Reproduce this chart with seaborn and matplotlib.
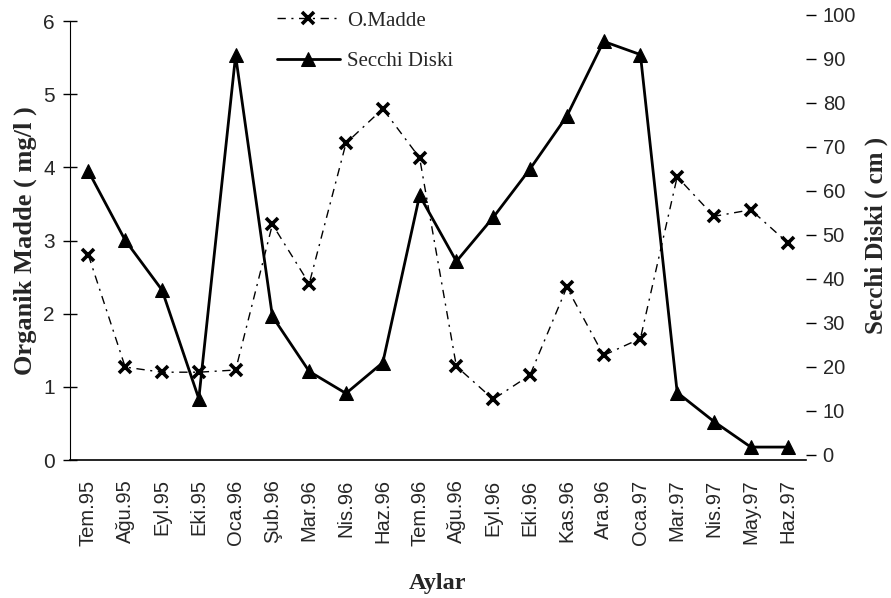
import matplotlib
matplotlib.use("Agg")
import matplotlib.pyplot as plt
import seaborn as sns
import pandas as pd
import numpy as np

months = ["Tem.95", "Ağu.95", "Eyl.95", "Eki.95", "Oca.96", "Şub.96", "Mar.96",
          "Nis.96", "Haz.96", "Tem.96", "Ağu.96", "Eyl.96", "Eki.96", "Kas.96",
          "Ara.96", "Oca.97", "Mar.97", "Nis.97", "May.97", "Haz.97"]
organik_madde = [2.80, 1.27, 1.20, 1.20, 1.23, 3.22, 2.41, 4.33, 4.80, 4.13,
                 1.28, 0.83, 1.16, 2.36, 1.43, 1.66, 3.87, 3.33, 3.42, 2.97]
secchi_diski = [64.5, 48.8, 37.5, 12.8, 90.8, 31.5, 19.0, 14.0, 21.0, 59.0,
                44.0, 54.0, 65.0, 77.0, 94.0, 91.0, 14.2, 7.6, 1.8, 1.8]
left_ticks = [0, 1, 2, 3, 4, 5, 6]
right_ticks = [0, 10, 20, 30, 40, 50, 60, 70, 80, 90, 100]

sns.set_theme(style="white")
plt.rcParams["font.family"] = ["Liberation Sans", "DejaVu Sans"]

df = pd.DataFrame({"x": np.arange(len(months)), "ay": months,
                   "om": organik_madde, "sd": secchi_diski})

W, H = 891, 598
fig = plt.figure(figsize=(W / 100, H / 100), dpi=100)
# left axis: x 70..806 px, y 0 at 460 px, 6 at 21 px
ax = fig.add_axes([70 / W, 1 - 460 / H, 736 / W, 439 / H])
# right axis: 0 at 455 px, 100 at 15 px
ax2 = fig.add_axes([70 / W, 1 - 455 / H, 736 / W, 440 / H], sharex=ax)
ax2.patch.set_alpha(0)

sns.lineplot(data=df, x="x", y="om", ax=ax, color="black", linewidth=1.0,
             linestyle=(0, (6, 4, 1.5, 4)), marker="x", markersize=8,
             markeredgewidth=2.6, markeredgecolor="black", label="O.Madde",
             legend=False, sort=False)
sns.lineplot(data=df, x="x", y="sd", ax=ax2, color="black", linewidth=2.0,
             marker="^", markersize=9.5, markeredgecolor="black",
             label="Secchi Diski", legend=False, sort=False)

ax.set_xlim(-0.5, len(months) - 0.5)
ax.set_ylim(0, 6)
ax2.set_ylim(0, 100)
ax.set_yticks(left_ticks)
ax2.yaxis.tick_right()
ax2.yaxis.set_label_position("right")
ax2.set_yticks(right_ticks)
ax.set_xticks(np.arange(len(months)))
ax.set_xticklabels(months, rotation=90, fontsize=14.5)
ax.set_xticks(np.arange(len(months) + 1) - 0.5, minor=True)
ax.tick_params(axis="x", which="major", length=0, pad=14)
ax.tick_params(axis="x", which="minor", length=8, direction="inout", width=1, color="black")
ax.tick_params(axis="y", labelsize=15, length=10, direction="inout", width=1, color="black", left=True, pad=6)
ax2.tick_params(axis="y", labelsize=14.5, length=7, direction="out", width=1, color="black", right=True, left=False, pad=5)
ax2.tick_params(axis="x", which="both", bottom=False, labelbottom=False)

for s in ["top", "right"]:
    ax.spines[s].set_visible(False)
for s in ["top", "right", "left", "bottom"]:
    ax2.spines[s].set_visible(False)
ax.spines["left"].set_color("black")
ax.spines["left"].set_linewidth(0.8)
ax.spines["bottom"].set_color("black")
ax.spines["bottom"].set_linewidth(1.2)

serif = ["Liberation Serif", "DejaVu Serif"]
ax.set_xlabel("Aylar", fontsize=17.5, fontweight="bold", family=serif, labelpad=20)
ax.set_ylabel("Organik Madde ( mg/l )", fontsize=19, fontweight="bold", family=serif, labelpad=4)
ax2.set_xlabel("")
ax2.set_ylabel("Secchi Diski ( cm )", fontsize=18, fontweight="bold", family=serif, labelpad=6)

h1, l1 = ax.get_legend_handles_labels()
h2, l2 = ax2.get_legend_handles_labels()
fig.legend(h1 + h2, l1 + l2, loc="upper left", bbox_to_anchor=(277 / W, 1 - 11 / H),
           frameon=False, prop={"family": serif, "size": 15}, handlelength=3.0,
           labelspacing=1.0, handletextpad=0.35, borderpad=0, borderaxespad=0)

fig.savefig("out.png", dpi=100)
